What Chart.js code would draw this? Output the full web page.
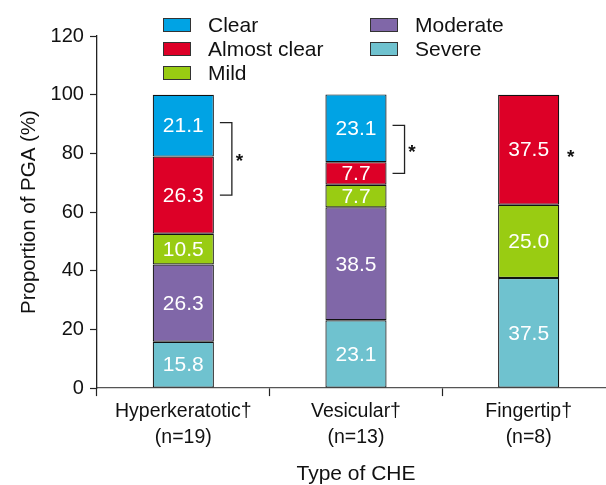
<!DOCTYPE html>
<html>
<head>
<meta charset="utf-8">
<script src="https://cdn.jsdelivr.net/npm/chart.js@4"></script>
<style>
html,body{margin:0;padding:0;background:#fff;overflow:hidden;}
#wrap{width:606px;height:485px;position:relative;overflow:hidden;}
#c{position:absolute;left:0;top:0;}
</style>
</head>
<body>
<div id="wrap"><canvas id="c" width="615" height="485"></canvas></div>
<script>
const categories = [["Hyperkeratotic\u2020","(n=19)"],["Vesicular\u2020","(n=13)"],["Fingertip\u2020","(n=8)"]];
const severe      = [15.8, 23.1, 37.5];
const moderate    = [26.3, 38.5, 0];
const mild        = [10.5, 7.7, 25.0];
const almostClear = [26.3, 7.7, 37.5];
const clear       = [21.1, 23.1, 0];
const yTicks = [0, 20, 40, 60, 80, 100, 120];
// significance brackets: [category index, from series, to series]
const brackets = [[0, "Clear", "Almost clear"], [1, "Clear", "Almost clear"]];
const stars = [[2, "Almost clear"]];

const FONT = "'Liberation Sans', Arial, Helvetica, sans-serif";
const colors = {
  "Severe": "#6FC2CF",
  "Moderate": "#8067A8",
  "Mild": "#99CC12",
  "Almost clear": "#DD0027",
  "Clear": "#00A3E4"
};
const seriesList = [
  ["Severe", severe], ["Moderate", moderate], ["Mild", mild],
  ["Almost clear", almostClear], ["Clear", clear]
];
const datasets = seriesList.map(([name, vals]) => ({
  label: name,
  data: vals,
  backgroundColor: colors[name],
  borderColor: "#111",
  borderWidth: 1.2,
  borderSkipped: false,
  barPercentage: 0.354,
  categoryPercentage: 1.0
}));

function segMid(chart, dsLabel, idx) {
  const y = chart.scales.y;
  let base = 0;
  for (const ds of chart.data.datasets) {
    const v = ds.data[idx];
    if (ds.label === dsLabel) return y.getPixelForValue(base + v / 2);
    base += v;
  }
  return null;
}
function barRight(chart, idx) {
  const meta = chart.getDatasetMeta(0);
  const el = meta.data[idx];
  return el.x + el.width / 2;
}

const overlay = {
  id: "overlay",
  afterDatasetsDraw(chart) {
    const ctx = chart.ctx;
    // value labels
    ctx.save();
    ctx.font = "21px " + FONT;
    ctx.fillStyle = "#fff";
    ctx.textAlign = "center";
    ctx.textBaseline = "middle";
    chart.data.datasets.forEach((ds, di) => {
      const meta = chart.getDatasetMeta(di);
      meta.data.forEach((el, i) => {
        const v = ds.data[i];
        if (!v) return;
        const mid = (el.y + el.base) / 2;
        ctx.fillText(v.toFixed(1), el.x, mid + 1);
      });
    });
    ctx.restore();
    // brackets
    ctx.save();
    ctx.strokeStyle = "#222";
    ctx.lineWidth = 1.3;
    ctx.fillStyle = "#111";
    ctx.font = "bold 19px " + FONT;
    ctx.textAlign = "center";
    ctx.textBaseline = "middle";
    brackets.forEach(([idx, a, b]) => {
      const r = barRight(chart, idx);
      const y1 = segMid(chart, a, idx) - 3;
      const y2 = segMid(chart, b, idx);
      const x0 = r + 6, x1 = r + 18;
      ctx.beginPath();
      ctx.moveTo(x0, y1); ctx.lineTo(x1, y1); ctx.lineTo(x1, y2); ctx.lineTo(x0, y2);
      ctx.stroke();
      ctx.fillText("*", x1 + 7.5, (y1 + y2) / 2 + 3);
    });
    stars.forEach(([idx, a]) => {
      const r = barRight(chart, idx);
      const y = segMid(chart, a, idx);
      ctx.fillText("*", r + 11.5, y + 8);
    });
    ctx.restore();
    // legend (custom two-column layout)
    ctx.save();
    ctx.font = "21px " + FONT;
    ctx.textBaseline = "middle";
    ctx.textAlign = "left";
    const order = ["Clear", "Almost clear", "Mild", "Moderate", "Severe"];
    const pos = [[163, 25], [163, 49], [163, 73], [370, 25], [370, 49]];
    order.forEach((name, k) => {
      const ds = chart.data.datasets.find(d => d.label === name);
      const [x, y] = pos[k];
      ctx.fillStyle = ds.backgroundColor;
      ctx.fillRect(x, y - 7, 28, 14);
      ctx.strokeStyle = "#333";
      ctx.lineWidth = 1;
      ctx.strokeRect(x + 0.5, y - 6.5, 27, 13);
      ctx.fillStyle = "#111";
      ctx.fillText(ds.label, x + 45, y + 1);
    });
    ctx.restore();
  }
};

new Chart(document.getElementById("c"), {
  type: "bar",
  data: { labels: categories, datasets: datasets },
  options: {
    responsive: false,
    animation: false,
    events: [],
    layout: { padding: { top: 36, left: 13.5, right: 0, bottom: -2 } },
    plugins: { legend: { display: false }, tooltip: { enabled: false } },
    scales: {
      x: {
        stacked: true,
        grid: { offset: true, drawOnChartArea: false, drawTicks: true, tickLength: 8, color: "#222", tickWidth: 1.2 },
        border: { color: "#555", width: 1.3 },
        ticks: { color: "#111", font: { family: FONT, size: 19.5, lineHeight: 1.3 }, padding: 3, maxRotation: 0, autoSkip: false },
        title: { display: true, text: "Type of CHE", color: "#111", font: { family: FONT, size: 21 }, padding: { top: 9, bottom: 0 } }
      },
      y: {
        stacked: true,
        min: 0, max: 120,
        afterBuildTicks: (s) => { s.ticks = yTicks.map(v => ({ value: v })); },
        grid: { drawOnChartArea: false, drawTicks: true, tickLength: 7, color: "#222", tickWidth: 1.2 },
        border: { color: "#222", width: 1.3 },
        ticks: { color: "#111", font: { family: FONT, size: 20 }, padding: 6 },
        title: { display: true, text: "Proportion of PGA (%)", color: "#111", font: { family: FONT, size: 20.5 }, padding: { top: 4, bottom: 2.5 } }
      }
    }
  },
  plugins: [overlay]
});
</script>
</body>
</html>
